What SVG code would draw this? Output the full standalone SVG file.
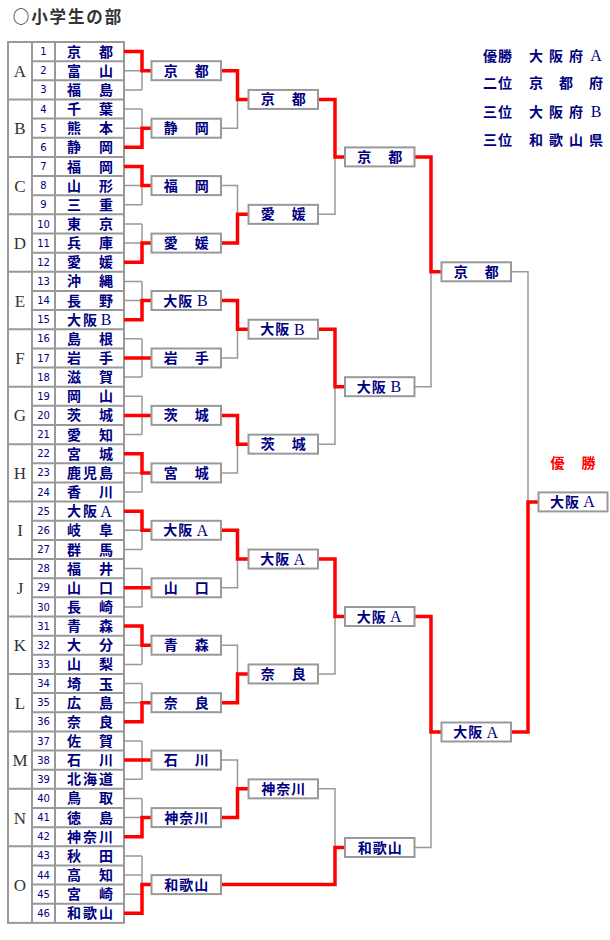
<svg xmlns="http://www.w3.org/2000/svg" width="610" height="940" viewBox="0 0 610 940">
<style>
.bg{fill:#fff}
.grid{fill:none;stroke:#999;stroke-width:2}
.gl{fill:none;stroke:#999;stroke-width:1.5}
.rl{fill:none;stroke:#f00;stroke-width:3.5;stroke-linejoin:miter}
.box rect{fill:#fff;stroke:#999;stroke-width:2}
.nm{font-family:"Noto Sans CJK JP","Noto Sans CJK SC",sans-serif;font-weight:bold;font-size:14px;fill:#000080;text-anchor:middle}
.lat{font-family:"Liberation Serif",serif;font-weight:normal;font-size:16px}
.no{font-family:"DejaVu Sans",sans-serif;font-size:10px;fill:#000080;text-anchor:middle}
.grp{font-family:"Liberation Serif",serif;font-size:17px;fill:#333;text-anchor:middle}
.ttl{font-family:"Noto Sans CJK JP",sans-serif;font-weight:bold;font-size:16.5px;fill:#333;text-anchor:middle}
.res{font-family:"Noto Sans CJK JP",sans-serif;font-weight:bold;font-size:14px;fill:#000080;text-anchor:middle}
.win{font-family:"Noto Sans CJK JP",sans-serif;font-weight:bold;font-size:14px;fill:#f00;text-anchor:middle}
</style>
<rect class="bg" x="0" y="0" width="610" height="940"/>
<text class="ttl" x="21 39.4 57.8 76.2 94.6 113" y="22.5">○小学生の部</text>

<g id="results">
<text class="res" x="490 505" y="60.5">優勝</text>
<text class="res" x="536 556 576" y="60.5">大阪府<tspan class="lat" x="596">A</tspan></text>
<text class="res" x="490 505" y="88">二位</text>
<text class="res" x="536 566 596" y="88">京都府</text>
<text class="res" x="490 505" y="116.5">三位</text>
<text class="res" x="536 556 576" y="116.5">大阪府<tspan class="lat" x="596">B</tspan></text>
<text class="res" x="490 505" y="145">三位</text>
<text class="res" x="536 556 576 596" y="145">和歌山県</text>
</g>
<text class="win" x="557.5 588.5" y="468">優勝</text>

<g id="table">
<rect class="grid" x="8" y="42" width="116" height="880.9"/>
<path class="grid" d="M32 42V922.9M55 42V922.9
M8 99.45H124M8 156.9H124M8 214.35H124M8 271.8H124M8 329.25H124M8 386.7H124M8 444.15H124M8 501.6H124M8 559.05H124M8 616.5H124M8 673.95H124M8 731.4H124M8 788.85H124M8 846.3H124
M32 61.15H124M32 80.3H124M32 118.6H124M32 137.75H124M32 176.05H124M32 195.2H124M32 233.5H124M32 252.65H124M32 290.95H124M32 310.1H124M32 348.4H124M32 367.55H124M32 405.85H124M32 425H124M32 463.3H124M32 482.45H124M32 520.75H124M32 539.9H124M32 578.2H124M32 597.35H124M32 635.65H124M32 654.8H124M32 693.1H124M32 712.25H124M32 750.55H124M32 769.7H124M32 808H124M32 827.15H124M32 865.45H124M32 884.6H124M32 903.75H124"/>
<g id="groups">
<text class="grp" x="20" y="76.7">A</text>
<text class="grp" x="20" y="134.2">B</text>
<text class="grp" x="20" y="191.6">C</text>
<text class="grp" x="20" y="249.1">D</text>
<text class="grp" x="20" y="306.5">E</text>
<text class="grp" x="20" y="364">F</text>
<text class="grp" x="20" y="421.4">G</text>
<text class="grp" x="20" y="478.9">H</text>
<text class="grp" x="20" y="536.3">I</text>
<text class="grp" x="20" y="593.8">J</text>
<text class="grp" x="20" y="651.2">K</text>
<text class="grp" x="20" y="708.7">L</text>
<text class="grp" x="20" y="766.1">M</text>
<text class="grp" x="20" y="823.6">N</text>
<text class="grp" x="20" y="890.6">O</text>
</g>
<g id="t1" transform="translate(0,42)"><text class="no" x="43.5" y="13.2">1</text><text class="nm" x="74 106" y="14.6">京都</text></g>
<g id="t2" transform="translate(0,61.15)"><text class="no" x="43.5" y="13.2">2</text><text class="nm" x="74 106" y="14.6">富山</text></g>
<g id="t3" transform="translate(0,80.3)"><text class="no" x="43.5" y="13.2">3</text><text class="nm" x="74 106" y="14.6">福島</text></g>
<g id="t4" transform="translate(0,99.45)"><text class="no" x="43.5" y="13.2">4</text><text class="nm" x="74 106" y="14.6">千葉</text></g>
<g id="t5" transform="translate(0,118.6)"><text class="no" x="43.5" y="13.2">5</text><text class="nm" x="74 106" y="14.6">熊本</text></g>
<g id="t6" transform="translate(0,137.75)"><text class="no" x="43.5" y="13.2">6</text><text class="nm" x="74 106" y="14.6">静岡</text></g>
<g id="t7" transform="translate(0,156.9)"><text class="no" x="43.5" y="13.2">7</text><text class="nm" x="74 106" y="14.6">福岡</text></g>
<g id="t8" transform="translate(0,176.05)"><text class="no" x="43.5" y="13.2">8</text><text class="nm" x="74 106" y="14.6">山形</text></g>
<g id="t9" transform="translate(0,195.2)"><text class="no" x="43.5" y="13.2">9</text><text class="nm" x="74 106" y="14.6">三重</text></g>
<g id="t10" transform="translate(0,214.35)"><text class="no" x="43.5" y="13.2">10</text><text class="nm" x="74 106" y="14.6">東京</text></g>
<g id="t11" transform="translate(0,233.5)"><text class="no" x="43.5" y="13.2">11</text><text class="nm" x="74 106" y="14.6">兵庫</text></g>
<g id="t12" transform="translate(0,252.65)"><text class="no" x="43.5" y="13.2">12</text><text class="nm" x="74 106" y="14.6">愛媛</text></g>
<g id="t13" transform="translate(0,271.8)"><text class="no" x="43.5" y="13.2">13</text><text class="nm" x="74 106" y="14.6">沖縄</text></g>
<g id="t14" transform="translate(0,290.95)"><text class="no" x="43.5" y="13.2">14</text><text class="nm" x="74 106" y="14.6">長野</text></g>
<g id="t15" transform="translate(0,310.1)"><text class="no" x="43.5" y="13.2">15</text><text class="nm" x="74 90" y="14.6">大阪<tspan class="lat" x="106" y="15">B</tspan></text></g>
<g id="t16" transform="translate(0,329.25)"><text class="no" x="43.5" y="13.2">16</text><text class="nm" x="74 106" y="14.6">島根</text></g>
<g id="t17" transform="translate(0,348.4)"><text class="no" x="43.5" y="13.2">17</text><text class="nm" x="74 106" y="14.6">岩手</text></g>
<g id="t18" transform="translate(0,367.55)"><text class="no" x="43.5" y="13.2">18</text><text class="nm" x="74 106" y="14.6">滋賀</text></g>
<g id="t19" transform="translate(0,386.7)"><text class="no" x="43.5" y="13.2">19</text><text class="nm" x="74 106" y="14.6">岡山</text></g>
<g id="t20" transform="translate(0,405.85)"><text class="no" x="43.5" y="13.2">20</text><text class="nm" x="74 106" y="14.6">茨城</text></g>
<g id="t21" transform="translate(0,425)"><text class="no" x="43.5" y="13.2">21</text><text class="nm" x="74 106" y="14.6">愛知</text></g>
<g id="t22" transform="translate(0,444.15)"><text class="no" x="43.5" y="13.2">22</text><text class="nm" x="74 106" y="14.6">宮城</text></g>
<g id="t23" transform="translate(0,463.3)"><text class="no" x="43.5" y="13.2">23</text><text class="nm" x="74 90 106" y="14.6">鹿児島</text></g>
<g id="t24" transform="translate(0,482.45)"><text class="no" x="43.5" y="13.2">24</text><text class="nm" x="74 106" y="14.6">香川</text></g>
<g id="t25" transform="translate(0,501.6)"><text class="no" x="43.5" y="13.2">25</text><text class="nm" x="74 90" y="14.6">大阪<tspan class="lat" x="106" y="15">A</tspan></text></g>
<g id="t26" transform="translate(0,520.75)"><text class="no" x="43.5" y="13.2">26</text><text class="nm" x="74 106" y="14.6">岐阜</text></g>
<g id="t27" transform="translate(0,539.9)"><text class="no" x="43.5" y="13.2">27</text><text class="nm" x="74 106" y="14.6">群馬</text></g>
<g id="t28" transform="translate(0,559.05)"><text class="no" x="43.5" y="13.2">28</text><text class="nm" x="74 106" y="14.6">福井</text></g>
<g id="t29" transform="translate(0,578.2)"><text class="no" x="43.5" y="13.2">29</text><text class="nm" x="74 106" y="14.6">山口</text></g>
<g id="t30" transform="translate(0,597.35)"><text class="no" x="43.5" y="13.2">30</text><text class="nm" x="74 106" y="14.6">長崎</text></g>
<g id="t31" transform="translate(0,616.5)"><text class="no" x="43.5" y="13.2">31</text><text class="nm" x="74 106" y="14.6">青森</text></g>
<g id="t32" transform="translate(0,635.65)"><text class="no" x="43.5" y="13.2">32</text><text class="nm" x="74 106" y="14.6">大分</text></g>
<g id="t33" transform="translate(0,654.8)"><text class="no" x="43.5" y="13.2">33</text><text class="nm" x="74 106" y="14.6">山梨</text></g>
<g id="t34" transform="translate(0,673.95)"><text class="no" x="43.5" y="13.2">34</text><text class="nm" x="74 106" y="14.6">埼玉</text></g>
<g id="t35" transform="translate(0,693.1)"><text class="no" x="43.5" y="13.2">35</text><text class="nm" x="74 106" y="14.6">広島</text></g>
<g id="t36" transform="translate(0,712.25)"><text class="no" x="43.5" y="13.2">36</text><text class="nm" x="74 106" y="14.6">奈良</text></g>
<g id="t37" transform="translate(0,731.4)"><text class="no" x="43.5" y="13.2">37</text><text class="nm" x="74 106" y="14.6">佐賀</text></g>
<g id="t38" transform="translate(0,750.55)"><text class="no" x="43.5" y="13.2">38</text><text class="nm" x="74 106" y="14.6">石川</text></g>
<g id="t39" transform="translate(0,769.7)"><text class="no" x="43.5" y="13.2">39</text><text class="nm" x="74 90 106" y="14.6">北海道</text></g>
<g id="t40" transform="translate(0,788.85)"><text class="no" x="43.5" y="13.2">40</text><text class="nm" x="74 106" y="14.6">鳥取</text></g>
<g id="t41" transform="translate(0,808)"><text class="no" x="43.5" y="13.2">41</text><text class="nm" x="74 106" y="14.6">徳島</text></g>
<g id="t42" transform="translate(0,827.15)"><text class="no" x="43.5" y="13.2">42</text><text class="nm" x="74 90 106" y="14.6">神奈川</text></g>
<g id="t43" transform="translate(0,846.3)"><text class="no" x="43.5" y="13.2">43</text><text class="nm" x="74 106" y="14.6">秋田</text></g>
<g id="t44" transform="translate(0,865.45)"><text class="no" x="43.5" y="13.2">44</text><text class="nm" x="74 106" y="14.6">高知</text></g>
<g id="t45" transform="translate(0,884.6)"><text class="no" x="43.5" y="13.2">45</text><text class="nm" x="74 106" y="14.6">宮崎</text></g>
<g id="t46" transform="translate(0,903.75)"><text class="no" x="43.5" y="13.2">46</text><text class="nm" x="74 90 106" y="14.6">和歌山</text></g>
</g>

<g id="connectors">
<path class="gl" d="M124 51.6H142M124 70.7H142M124 89.9H142M142 51.6V89.9
M124 109H142M124 128.2H142M124 147.3H142M142 109V147.3
M124 166.5H142M124 185.6H142M124 204.8H142M142 166.5V204.8
M124 223.9H142M124 243.1H142M124 262.2H142M142 223.9V262.2
M124 281.4H142M124 300.5H142M124 319.7H142M142 281.4V319.7
M124 338.8H142M124 358H142M124 377.1H142M142 338.8V377.1
M124 396.3H142M124 415.4H142M124 434.6H142M142 396.3V434.6
M124 453.7H142M124 472.9H142M124 492H142M142 453.7V492
M124 511.2H142M124 530.3H142M124 549.5H142M142 511.2V549.5
M124 568.6H142M124 587.8H142M124 606.9H142M142 568.6V606.9
M124 626.1H142M124 645.2H142M124 664.4H142M142 626.1V664.4
M124 683.5H142M124 702.7H142M124 721.8H142M142 683.5V721.8
M124 741H142M124 760.1H142M124 779.3H142M142 741V779.3
M124 798.4H142M124 817.6H142M124 836.7H142M142 798.4V836.7
M124 855.9H142M124 875H142M124 894.2H142M124 913.3H142M142 855.9V913.3
M221 70.7H237.5V128.2H221
M221 185.6H237.5V243.1H221
M221 300.5H237.5V358H221
M221 415.4H237.5V472.9H221
M221 530.3H237.5V587.8H221
M221 645.2H237.5V702.7H221
M221 760.1H237.5V817.6H221
M318 99.45H335V214.35H318
M318 329.25H335V444.15H318
M318 559.05H335V673.95H318
M318 788.85H335V847.5
M414.5 156.9H431V386.7H414.5
M414.5 616.5H431V847.5H414.5
M511 271.8H528V732H511"/>
<path class="rl" d="M124 51.6H142V70.7H151.5
M124 147.3H142V128.2H151.5
M124 166.5H142V185.6H151.5
M124 262.2H142V243.1H151.5
M124 319.7H142V300.5H151.5
M124 358H151.5
M124 415.4H151.5
M124 453.7H142V472.9H151.5
M124 511.2H142V530.3H151.5
M124 587.8H151.5
M124 626.1H142V645.2H151.5
M124 721.8H142V702.7H151.5
M124 760.1H151.5
M124 836.7H142V817.6H151.5
M124 913.3H142V884.6H151.5
M221 70.7H237.5V99.45H248.5
M221 243.1H237.5V214.35H248.5
M221 300.5H237.5V329.25H248.5
M221 415.4H237.5V444.15H248.5
M221 530.3H237.5V559.05H248.5
M221 702.7H237.5V673.95H248.5
M221 817.6H237.5V788.85H248.5
M221 884.6H335V847.5H345
M318 99.45H335V156.9H345
M318 329.25H335V386.7H345
M318 559.05H335V616.5H345
M414.5 156.9H431V271.8H441.5
M414.5 616.5H431V732H441.5
M511 732H528V501.9H538.5"/>
</g>

<g id="r1A" class="box" transform="translate(151.5,61.2)"><rect width="69.5" height="19"/><text class="nm" x="19.25 50.25" y="14.5">京都</text></g>
<g id="r1B" class="box" transform="translate(151.5,118.7)"><rect width="69.5" height="19"/><text class="nm" x="19.25 50.25" y="14.5">静岡</text></g>
<g id="r1C" class="box" transform="translate(151.5,176.1)"><rect width="69.5" height="19"/><text class="nm" x="19.25 50.25" y="14.5">福岡</text></g>
<g id="r1D" class="box" transform="translate(151.5,233.6)"><rect width="69.5" height="19"/><text class="nm" x="19.25 50.25" y="14.5">愛媛</text></g>
<g id="r1E" class="box" transform="translate(151.5,291)"><rect width="69.5" height="19"/><text class="nm" x="18.75 33.75" y="14.5">大阪<tspan class="lat" x="50.75" y="15">B</tspan></text></g>
<g id="r1F" class="box" transform="translate(151.5,348.5)"><rect width="69.5" height="19"/><text class="nm" x="19.25 50.25" y="14.5">岩手</text></g>
<g id="r1G" class="box" transform="translate(151.5,405.9)"><rect width="69.5" height="19"/><text class="nm" x="19.25 50.25" y="14.5">茨城</text></g>
<g id="r1H" class="box" transform="translate(151.5,463.4)"><rect width="69.5" height="19"/><text class="nm" x="19.25 50.25" y="14.5">宮城</text></g>
<g id="r1I" class="box" transform="translate(151.5,520.8)"><rect width="69.5" height="19"/><text class="nm" x="18.75 33.75" y="14.5">大阪<tspan class="lat" x="50.75" y="15">A</tspan></text></g>
<g id="r1J" class="box" transform="translate(151.5,578.3)"><rect width="69.5" height="19"/><text class="nm" x="19.25 50.25" y="14.5">山口</text></g>
<g id="r1K" class="box" transform="translate(151.5,635.7)"><rect width="69.5" height="19"/><text class="nm" x="19.25 50.25" y="14.5">青森</text></g>
<g id="r1L" class="box" transform="translate(151.5,693.2)"><rect width="69.5" height="19"/><text class="nm" x="19.25 50.25" y="14.5">奈良</text></g>
<g id="r1M" class="box" transform="translate(151.5,750.6)"><rect width="69.5" height="19"/><text class="nm" x="19.25 50.25" y="14.5">石川</text></g>
<g id="r1N" class="box" transform="translate(151.5,808.1)"><rect width="69.5" height="19"/><text class="nm" x="19.75 34.75 49.75" y="14.5">神奈川</text></g>
<g id="r1O" class="box" transform="translate(151.5,875.1)"><rect width="69.5" height="19"/><text class="nm" x="19.75 34.75 49.75" y="14.5">和歌山</text></g>

<g id="r2AB" class="box" transform="translate(248.5,89.95)"><rect width="69.5" height="19"/><text class="nm" x="19.25 50.25" y="14.5">京都</text></g>
<g id="r2CD" class="box" transform="translate(248.5,204.85)"><rect width="69.5" height="19"/><text class="nm" x="19.25 50.25" y="14.5">愛媛</text></g>
<g id="r2EF" class="box" transform="translate(248.5,319.75)"><rect width="69.5" height="19"/><text class="nm" x="18.75 33.75" y="14.5">大阪<tspan class="lat" x="50.75" y="15">B</tspan></text></g>
<g id="r2GH" class="box" transform="translate(248.5,434.65)"><rect width="69.5" height="19"/><text class="nm" x="19.25 50.25" y="14.5">茨城</text></g>
<g id="r2IJ" class="box" transform="translate(248.5,549.55)"><rect width="69.5" height="19"/><text class="nm" x="18.75 33.75" y="14.5">大阪<tspan class="lat" x="50.75" y="15">A</tspan></text></g>
<g id="r2KL" class="box" transform="translate(248.5,664.45)"><rect width="69.5" height="19"/><text class="nm" x="19.25 50.25" y="14.5">奈良</text></g>
<g id="r2MN" class="box" transform="translate(248.5,779.35)"><rect width="69.5" height="19"/><text class="nm" x="19.75 34.75 49.75" y="14.5">神奈川</text></g>

<g id="r3a" class="box" transform="translate(345,147.4)"><rect width="69.5" height="19"/><text class="nm" x="19.25 50.25" y="14.5">京都</text></g>
<g id="r3b" class="box" transform="translate(345,377.2)"><rect width="69.5" height="19"/><text class="nm" x="18.75 33.75" y="14.5">大阪<tspan class="lat" x="50.75" y="15">B</tspan></text></g>
<g id="r3c" class="box" transform="translate(345,607)"><rect width="69.5" height="19"/><text class="nm" x="18.75 33.75" y="14.5">大阪<tspan class="lat" x="50.75" y="15">A</tspan></text></g>
<g id="r3d" class="box" transform="translate(345,838)"><rect width="69.5" height="19"/><text class="nm" x="19.75 34.75 49.75" y="14.5">和歌山</text></g>

<g id="r4a" class="box" transform="translate(441.5,262.3)"><rect width="69.5" height="19"/><text class="nm" x="19.25 50.25" y="14.5">京都</text></g>
<g id="r4b" class="box" transform="translate(441.5,722.5)"><rect width="69.5" height="19"/><text class="nm" x="18.75 33.75" y="14.5">大阪<tspan class="lat" x="50.75" y="15">A</tspan></text></g>

<g id="final" class="box" transform="translate(538.5,492.4)"><rect width="69" height="19"/><text class="nm" x="18.5 33.5" y="14.5">大阪<tspan class="lat" x="50.5" y="15">A</tspan></text></g>
</svg>
